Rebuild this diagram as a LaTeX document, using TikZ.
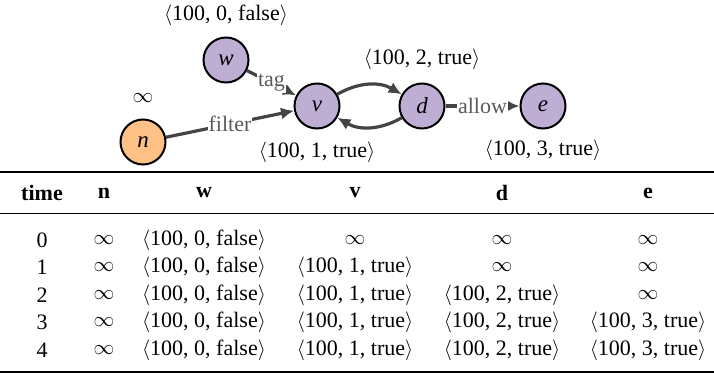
\documentclass[tikz,border=0pt]{standalone}
\usepackage{fontspec}
\setmainfont{Liberation Serif}
\usetikzlibrary{arrows.meta}
\definecolor{nodepurple}{HTML}{BEAED4}
\definecolor{nodeorange}{HTML}{FDC086}
\definecolor{edgegray}{HTML}{444444}
\definecolor{labelgray}{HTML}{5A5A5A}
\newcommand{\tpl}[3]{$\langle$#1, #2, #3$\rangle$}
\begin{document}
\begin{tikzpicture}[x=1pt, y=-1pt, font=\fontsize{22}{26}\selectfont,
    vertex/.style={circle, draw=black, line width=2pt, minimum size=45pt, inner sep=0pt, fill=nodepurple,
        font=\fontsize{23}{26}\selectfont\itshape},
    edge/.style={draw=edgegray, line width=3.2pt, -{Latex[length=13pt, width=12pt]}},
    elabel/.style={fill=white, inner sep=1pt, text=labelgray}]
    \useasboundingbox (0,0) rectangle (714,374);
    % graph
    \node[vertex] (w) at (226,60) {w};
    \node[vertex] (v) at (317,106) {v};
    \node[vertex, fill=nodeorange] (n) at (143,142) {n};
    \node[vertex] (d) at (422,106) {d};
    \node[vertex] (e) at (543,106) {e};
    % values next to the nodes
    \node (wval) at (226,15) {\tpl{100}{0}{false}};
    \node (nval) at (143,98) {$\infty$};
    \node (vval) at (317,152) {\tpl{100}{1}{true}};
    \node (dval) at (422,59) {\tpl{100}{2}{true}};
    \node (eval) at (543,150) {\tpl{100}{3}{true}};
    % edges
    \draw[edge] (w) -- node[elabel] {tag} (v);
    \draw[edge] (n) -- node[elabel] {filter} (v);
    \draw[edge] (v) to[bend left=30] (d);
    \draw[edge] (d) to[bend left=30] (v);
    \draw[edge] (d) -- node[elabel] {allow} (e);
    % table rules
    \draw[line width=1.8pt] (0,172) -- (714,172);
    \draw[line width=1pt] (0,213) -- (714,213);
    \draw[line width=1.8pt] (0,372) -- (714,372);
    % header
    \foreach \name/\x in {time/42, n/104, w/204, v/355, d/502, e/648}
        \node[font=\fontsize{22}{26}\selectfont\bfseries] (h-\name) at (\x,193) {\name};
    % rows
    \foreach \t/\cv/\cd/\ce in {
        0/{$\infty$}/{$\infty$}/{$\infty$},
        1/{\tpl{100}{1}{true}}/{$\infty$}/{$\infty$},
        2/{\tpl{100}{1}{true}}/{\tpl{100}{2}{true}}/{$\infty$},
        3/{\tpl{100}{1}{true}}/{\tpl{100}{2}{true}}/{\tpl{100}{3}{true}},
        4/{\tpl{100}{1}{true}}/{\tpl{100}{2}{true}}/{\tpl{100}{3}{true}}} {
        \node (t-\t) at (42,240+27.5*\t) {\t};
        \node (n-\t) at (104,240+27.5*\t) {$\infty$};
        \node (w-\t) at (204,240+27.5*\t) {\tpl{100}{0}{false}};
        \node (v-\t) at (355,240+27.5*\t) {\cv};
        \node (d-\t) at (502,240+27.5*\t) {\cd};
        \node (e-\t) at (648,240+27.5*\t) {\ce};
    }
\end{tikzpicture}
\end{document}
